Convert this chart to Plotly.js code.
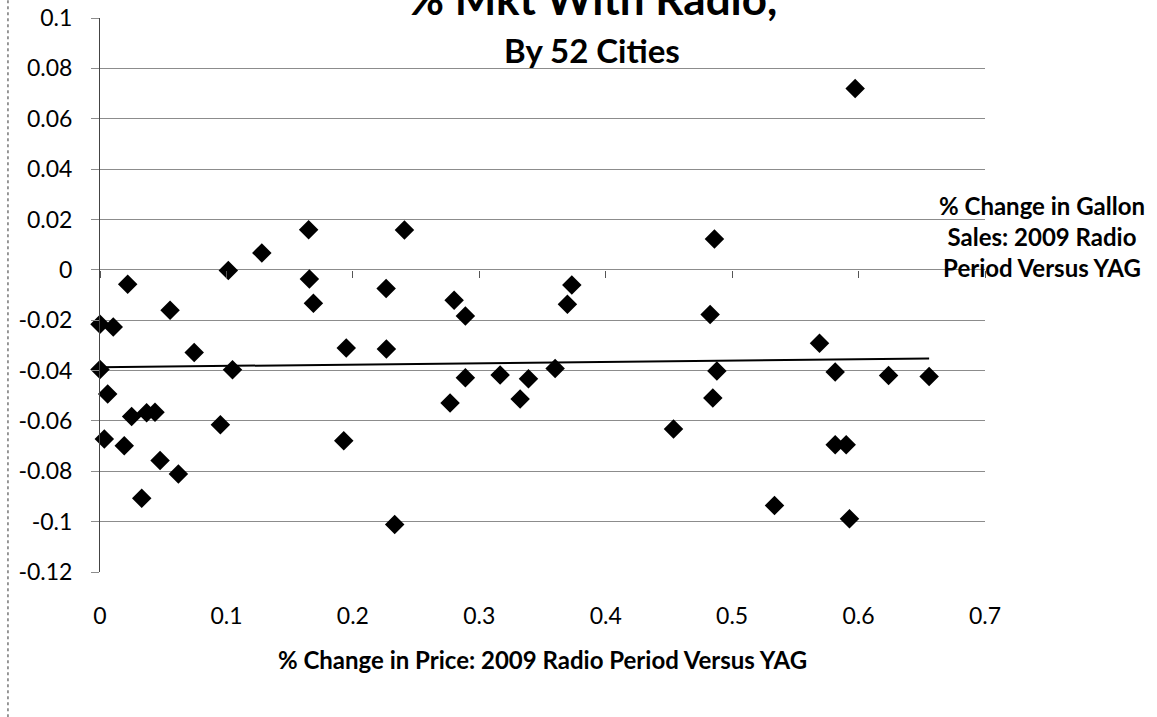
<!DOCTYPE html>
<html>
<head>
<meta charset="utf-8">
<script src="https://cdn.plot.ly/plotly-3.0.1.min.js"></script>
<style>html,body{margin:0;padding:0;background:#fff;}#chart{width:1157px;height:717px;}</style>
</head>
<body>
<div id="chart"></div>
<script>
// % change in price (x) and % change in gallon sales (y), 52 cities
const priceChange = [
  0.000, 0.0105, 0.0219, 0.0554, 0.1015, 0.128, 0.1650, 0.1656, 0.1688, 0.2263,
  0.2408, 0.000, 0.0745, 0.1048, 0.1948, 0.2265, 0.0061, 0.0250, 0.0369, 0.0435,
  0.0952, 0.0034, 0.0192, 0.0475, 0.0620, 0.1928, 0.0330, 0.2331, 0.2801, 0.2890,
  0.2890, 0.2769, 0.3165, 0.3389, 0.3323, 0.3600, 0.3697, 0.3732, 0.4860, 0.4826,
  0.5691, 0.4879, 0.5815, 0.6237, 0.6558, 0.4847, 0.4536, 0.5815, 0.5902, 0.5335,
  0.5928, 0.5973
];
const salesChange = [
  -0.0216, -0.0227, -0.0057, -0.0161, -0.0003, 0.0067, 0.0159, -0.0036, -0.0133, -0.0074,
  0.0158, -0.0396, -0.0328, -0.0397, -0.0310, -0.0314, -0.0493, -0.0582, -0.0568, -0.0566,
  -0.0615, -0.0672, -0.0699, -0.0757, -0.0811, -0.0679, -0.0907, -0.1011, -0.0121, -0.0183,
  -0.0429, -0.0529, -0.0418, -0.0433, -0.0513, -0.0392, -0.0137, -0.0060, 0.0122, -0.0177,
  -0.0292, -0.0402, -0.0406, -0.0420, -0.0424, -0.0509, -0.0632, -0.0695, -0.0695, -0.0936,
  -0.0989, 0.0720
];
// linear trend line endpoints
const trendX = [0.0, 0.6558];
const trendY = [-0.0387, -0.0352];

const xTickVals = [0, 0.1, 0.2, 0.3, 0.4, 0.5, 0.6, 0.7];
const xTickText = ['0', '0.1', '0.2', '0.3', '0.4', '0.5', '0.6', '0.7'];
const yTickVals = [0.1, 0.08, 0.06, 0.04, 0.02, 0, -0.02, -0.04, -0.06, -0.08, -0.1, -0.12];
const yTickText = ['0.1', '0.08', '0.06', '0.04', '0.02', '0', '-0.02', '-0.04', '-0.06', '-0.08', '-0.1', '-0.12'];

const titleLine1 = '% Mkt With Radio,';
const titleLine2 = 'By 52 Cities';
const xTitle = '% Change in Price: 2009 Radio Period Versus YAG';
const yTitle = '% Change in Gallon<br>Sales: 2009 Radio<br>Period Versus YAG';

const FONT = 'Lato, "Open Sans", sans-serif';
const GRID = '#8c8c8c';

const traces = [
  {
    type: 'scatter', mode: 'markers', x: priceChange, y: salesChange,
    marker: {symbol: 'diamond', size: 15, color: '#000'},
    cliponaxis: false, showlegend: false, hoverinfo: 'x+y'
  },
  {
    type: 'scatter', mode: 'lines', x: trendX, y: trendY,
    line: {color: '#000', width: 2}, showlegend: false, hoverinfo: 'skip'
  },
  {
    // carrier so the x-axis tick marks at y = 0 are drawn
    type: 'scatter', mode: 'markers', x: [null], y: [null], xaxis: 'x2', yaxis: 'y',
    showlegend: false, hoverinfo: 'skip'
  }
];

const layout = {
  width: 1157, height: 717,
  margin: {l: 100, r: 172, t: 18, b: 145},
  paper_bgcolor: '#fff', plot_bgcolor: '#fff',
  font: {family: FONT, color: '#000', size: 23},
  showlegend: false,
  xaxis: {
    range: [0, 0.7], tickvals: xTickVals, ticktext: xTickText,
    showgrid: false, zeroline: false, showline: false, ticks: '',
    ticklabelstandoff: 28,
    tickfont: {family: FONT, size: 23, color: '#000'},
    title: {text: xTitle, font: {family: FONT, size: 24, color: '#000', weight: 'bold'}, standoff: 24},
    automargin: false
  },
  xaxis2: {
    range: [0, 0.7], overlaying: 'x', anchor: 'free', position: 0.12 / 0.22, side: 'bottom',
    tickvals: xTickVals, showticklabels: false, ticks: 'outside', ticklen: 7,
    tickcolor: '#555', tickwidth: 1, showgrid: false, zeroline: false, showline: false
  },
  yaxis: {
    range: [-0.12, 0.1], tickvals: yTickVals, ticktext: yTickText,
    showgrid: true, gridcolor: GRID, gridwidth: 1,
    zeroline: false, showline: true, linecolor: '#444', linewidth: 1,
    ticks: 'outside', ticklen: 8, tickcolor: GRID, tickwidth: 1,
    ticklabelstandoff: 14,
    tickfont: {family: FONT, size: 23, color: '#000'},
    automargin: false
  },
  annotations: [
    {xref: 'paper', yref: 'paper', x: 0.556, y: 1.036, xanchor: 'center', yanchor: 'middle',
     text: titleLine1, showarrow: false, font: {family: FONT, size: 44, color: '#000', weight: 'bold'}},
    {xref: 'paper', yref: 'paper', x: 0.556, y: 0.942, xanchor: 'center', yanchor: 'middle',
     text: titleLine2, showarrow: false, font: {family: FONT, size: 33, color: '#000', weight: 'bold'}},
    {xref: 'paper', yref: 'paper', x: 1.0644, y: 0.606, xanchor: 'center', yanchor: 'middle',
     text: yTitle, showarrow: false, align: 'center',
     font: {family: FONT, size: 24, color: '#000', weight: 'bold'}}
  ],
  shapes: [
    {type: 'line', xref: 'paper', yref: 'paper', x0: -0.104, x1: -0.104, y0: -0.262, y1: 1.033,
     line: {color: '#777', width: 1.5, dash: 'dot'}}
  ]
};

Plotly.newPlot('chart', traces, layout, {displayModeBar: false, staticPlot: true});
</script>
</body>
</html>
